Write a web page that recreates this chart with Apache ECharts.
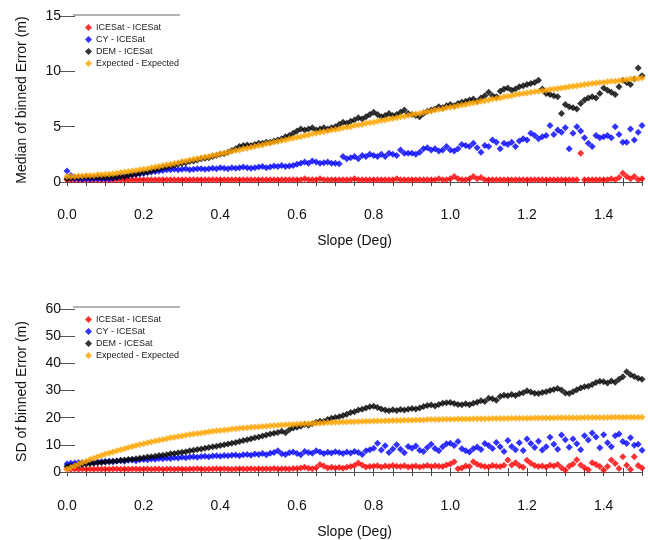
<!DOCTYPE html>
<html>
<head>
<meta charset="utf-8">
<script src="https://cdn.jsdelivr.net/npm/echarts@6/dist/echarts.min.js"></script>
<style>html,body{margin:0;padding:0;background:#fff}#c{width:648px;height:540px}</style>
</head>
<body>
<div id="c"></div>
<script>
var slope = [0.00,0.01,0.02,0.03,0.04,0.05,0.06,0.07,0.08,0.09,
0.10,0.11,0.12,0.13,0.14,0.15,0.16,0.17,0.18,0.19,
0.20,0.21,0.22,0.23,0.24,0.25,0.26,0.27,0.28,0.29,
0.30,0.31,0.32,0.33,0.34,0.35,0.36,0.37,0.38,0.39,
0.40,0.41,0.42,0.43,0.44,0.45,0.46,0.47,0.48,0.49,
0.50,0.51,0.52,0.53,0.54,0.55,0.56,0.57,0.58,0.59,
0.60,0.61,0.62,0.63,0.64,0.65,0.66,0.67,0.68,0.69,
0.70,0.71,0.72,0.73,0.74,0.75,0.76,0.77,0.78,0.79,
0.80,0.81,0.82,0.83,0.84,0.85,0.86,0.87,0.88,0.89,
0.90,0.91,0.92,0.93,0.94,0.95,0.96,0.97,0.98,0.99,
1.00,1.01,1.02,1.03,1.04,1.05,1.06,1.07,1.08,1.09,
1.10,1.11,1.12,1.13,1.14,1.15,1.16,1.17,1.18,1.19,
1.20,1.21,1.22,1.23,1.24,1.25,1.26,1.27,1.28,1.29,
1.30,1.31,1.32,1.33,1.34,1.35,1.36,1.37,1.38,1.39,
1.40,1.41,1.42,1.43,1.44,1.45,1.46,1.47,1.48,1.49,
1.50];

var seriesNames = ['ICESat - ICESat', 'CY - ICESat', 'DEM - ICESat', 'Expected - Expected'];
var xTickLabels = [0, 0.2, 0.4, 0.6, 0.8, 1.0, 1.2, 1.4];
var xMinorTicks = [0,0.05,0.1,0.15,0.2,0.25,0.3,0.35,0.4,0.45,0.5,0.55,0.6,0.65,0.7,0.75,0.8,0.85,0.9,0.95,1.0,1.05,1.1,1.15,1.2,1.25,1.3,1.35,1.4,1.45,1.5];
var topYLabels = [0, 5, 10, 15];
var botYLabels = [0, 10, 20, 30, 40, 50, 60];

// ---- Top panel: Median of binned error (m)
var medIce = [0.2,0.2,0.2,0.2,0.2,0.2,0.2,0.2,0.2,0.2,
0.2,0.2,0.2,0.2,0.2,0.2,0.2,0.2,0.2,0.2,
0.2,0.2,0.2,0.2,0.2,0.2,0.2,0.2,0.2,0.2,
0.2,0.2,0.2,0.2,0.2,0.2,0.2,0.2,0.2,0.2,
0.2,0.2,0.2,0.2,0.2,0.2,0.2,0.2,0.2,0.2,
0.2,0.2,0.2,0.2,0.2,0.2,0.2,0.2,0.2,0.2,
0.2,0.2,0.3,0.2,0.2,0.2,0.3,0.2,0.2,0.2,
0.2,0.2,0.2,0.2,0.2,0.3,0.2,0.2,0.2,0.2,
0.2,0.2,0.2,0.2,0.2,0.2,0.3,0.2,0.2,0.2,
0.2,0.2,0.2,0.2,0.2,0.2,0.2,0.3,0.2,0.2,
0.3,0.5,0.3,0.2,0.2,0.3,0.5,0.3,0.4,0.2,
0.2,0.2,0.2,0.2,0.2,0.2,0.2,0.2,0.2,0.2,
0.2,0.2,0.2,0.2,0.2,0.2,0.2,0.2,0.2,0.2,
0.2,0.2,0.2,0.2,2.6,0.2,0.2,0.2,0.2,0.2,
0.2,0.2,0.3,0.2,0.4,0.8,0.5,0.3,0.5,0.2,
0.3];
var medCY = [1.0,0.6,0.3,0.3,0.25,0.3,0.25,0.3,0.3,0.3,
0.3,0.3,0.35,0.4,0.5,0.55,0.6,0.65,0.7,0.75,
0.8,0.85,0.9,0.95,1.0,1.05,1.1,1.1,1.15,1.1,
1.15,1.2,1.1,1.15,1.2,1.2,1.15,1.2,1.25,1.2,
1.3,1.25,1.2,1.3,1.25,1.3,1.35,1.3,1.25,1.3,
1.35,1.4,1.3,1.35,1.45,1.4,1.5,1.4,1.45,1.5,
1.6,1.7,1.8,1.7,1.9,1.8,1.7,1.75,1.8,1.7,
1.7,1.65,2.3,2.1,2.2,2.3,2.1,2.4,2.3,2.5,
2.4,2.3,2.5,2.3,2.6,2.5,2.4,2.9,2.6,2.6,
2.6,2.5,2.7,3.0,3.1,2.9,3.0,2.8,2.9,3.2,
2.9,2.8,3.0,3.4,3.3,3.2,3.5,3.1,2.7,3.3,
3.2,3.8,3.6,3.0,3.5,3.4,3.6,3.2,3.7,3.9,
3.8,4.4,4.2,3.9,4.1,4.2,5.1,4.3,4.7,4.5,
4.9,3.0,4.4,5.0,4.6,4.0,3.5,3.2,4.2,4.0,
4.1,4.2,4.0,5.0,4.3,3.6,3.6,4.8,3.8,4.5,
5.1];
var medDEM = [0.3,0.35,0.4,0.4,0.4,0.45,0.4,0.4,0.45,0.4,
0.4,0.45,0.4,0.45,0.5,0.5,0.6,0.65,0.7,0.8,
0.85,0.9,1.0,1.1,1.2,1.3,1.35,1.45,1.5,1.6,
1.7,1.75,1.85,1.9,2.0,2.1,2.15,2.2,2.3,2.4,
2.5,2.55,2.7,2.85,3.0,3.2,3.3,3.35,3.3,3.4,
3.5,3.5,3.6,3.6,3.7,3.8,3.9,4.1,4.2,4.4,
4.6,4.8,4.7,4.8,4.9,4.7,4.8,4.9,4.8,4.9,
5.0,5.2,5.4,5.3,5.5,5.6,5.8,5.7,5.9,6.1,
6.3,6.1,5.9,6.0,6.2,6.0,6.1,6.3,6.5,6.2,
6.1,6.0,5.9,6.2,6.4,6.5,6.6,6.8,6.7,6.9,
7.0,6.9,7.1,7.2,7.3,7.4,7.5,7.3,7.6,7.8,
8.1,7.8,7.7,8.2,8.4,8.5,8.3,8.4,8.6,8.7,
8.8,8.9,9.0,9.2,8.4,8.0,7.9,7.8,7.7,6.2,
7.0,6.8,6.7,6.6,7.1,7.4,7.6,7.7,7.6,8.0,
8.5,8.3,8.1,7.9,8.6,9.2,9.0,8.8,9.3,10.3,
9.6];
var medExp = [0.5,0.5,0.5,0.55,0.55,0.6,0.6,0.6,0.65,0.65,
0.7,0.7,0.75,0.8,0.85,0.9,0.95,1.0,1.05,1.1,
1.15,1.2,1.3,1.35,1.4,1.5,1.55,1.6,1.7,1.75,
1.85,1.9,2.0,2.05,2.1,2.2,2.25,2.3,2.4,2.45,
2.55,2.6,2.7,2.75,2.85,2.9,3.0,3.05,3.15,3.2,
3.3,3.35,3.45,3.5,3.6,3.65,3.75,3.8,3.9,3.95,
4.05,4.1,4.2,4.25,4.35,4.4,4.5,4.55,4.6,4.7,
4.75,4.8,4.9,4.95,5.0,5.1,5.15,5.2,5.3,5.35,
5.4,5.5,5.55,5.6,5.7,5.75,5.8,5.9,5.95,6.0,
6.1,6.15,6.2,6.3,6.35,6.4,6.5,6.55,6.6,6.7,
6.75,6.8,6.9,6.95,7.0,7.1,7.15,7.2,7.3,7.35,
7.4,7.5,7.55,7.6,7.7,7.75,7.8,7.9,7.95,8.0,
8.05,8.1,8.15,8.2,8.25,8.3,8.35,8.4,8.45,8.5,
8.55,8.6,8.65,8.7,8.75,8.8,8.85,8.9,8.95,9.0,
9.0,9.05,9.1,9.1,9.15,9.2,9.25,9.3,9.3,9.35,
9.4];

// ---- Bottom panel: SD of binned error (m)
var sdIce = [1.0,1.0,1.1,1.0,1.1,1.0,1.1,1.0,1.1,1.0,
1.1,1.0,1.1,1.1,1.0,1.1,1.0,1.1,1.1,1.0,
1.1,1.1,1.0,1.1,1.1,1.0,1.1,1.1,1.0,1.1,
1.1,1.0,1.1,1.1,1.2,1.1,1.0,1.1,1.1,1.2,
1.1,1.2,1.1,1.0,1.1,1.2,1.1,1.1,1.2,1.1,
1.2,1.1,1.2,1.1,1.3,1.1,1.2,1.2,1.1,1.3,
1.3,1.5,1.8,1.4,1.2,1.6,2.8,2.2,1.5,1.8,
1.5,1.7,1.4,1.8,2.0,2.4,3.3,2.6,1.9,2.0,
2.1,2.3,1.9,2.2,2.0,2.4,2.1,2.0,2.3,1.9,
2.0,2.2,1.9,2.1,2.4,2.0,2.3,2.1,2.0,2.6,
3.0,3.8,1.2,1.5,2.2,2.0,3.8,2.9,2.3,2.0,
1.9,2.4,2.1,2.0,2.5,4.4,2.6,3.4,2.3,1.8,
4.3,3.2,2.4,2.0,2.2,1.9,2.5,2.2,2.8,1.6,
0.7,2.1,3.0,4.5,2.6,1.6,0.8,3.4,2.8,2.0,
0.7,2.0,4.4,3.1,1.3,5.6,2.5,0.9,5.6,2.4,
1.5];
var sdCY = [3.0,3.2,3.3,3.4,3.5,3.4,3.6,3.5,3.7,3.8,
3.9,4.0,3.8,4.1,4.2,4.0,4.3,4.4,4.2,4.5,
4.6,4.5,4.8,4.7,5.0,4.9,5.1,5.0,5.3,5.2,
5.4,5.3,5.5,5.6,5.4,5.7,5.8,5.6,5.9,6.0,
5.8,6.1,6.0,6.2,6.3,6.0,6.4,6.5,6.2,6.6,
6.5,6.8,6.4,6.9,7.2,7.8,6.7,6.5,7.1,7.4,
6.8,6.4,7.6,7.2,6.9,7.8,7.4,6.8,7.3,7.0,
7.5,7.2,6.8,7.4,7.0,7.6,7.2,6.5,7.8,8.2,
8.8,10.6,8.1,9.7,7.2,8.5,10.0,8.4,7.1,9.4,
8.8,9.6,8.0,7.6,9.0,10.2,8.7,7.8,9.3,10.4,
10.6,9.8,11.2,8.6,7.8,7.4,8.6,9.2,8.3,10.5,
9.8,8.7,10.9,9.3,7.6,11.6,9.4,8.2,10.8,7.9,
12.2,10.5,9.0,11.3,8.1,9.3,12.8,10.2,8.4,13.6,
11.9,9.1,12.2,10.4,8.2,13.4,11.8,14.4,12.9,8.9,
13.7,10.8,9.3,13.4,14.0,11.2,10.5,12.6,9.9,10.2,
8.0];
var sdDEM = [2.0,2.2,2.5,2.6,2.8,3.0,3.1,3.2,3.4,3.5,
3.7,3.8,4.0,4.1,4.3,4.4,4.6,4.7,4.9,5.1,
5.3,5.5,5.6,5.8,6.1,6.2,6.4,6.7,6.8,7.1,
7.3,7.5,7.8,8.0,8.3,8.5,8.8,9.0,9.3,9.5,
9.8,10.0,10.3,10.6,10.9,11.2,11.6,11.9,12.3,12.6,
12.9,13.3,13.6,14.0,14.3,14.6,15.0,14.5,15.6,16.2,
16.5,16.9,17.5,17.2,17.8,18.3,18.7,18.6,19.3,19.8,
20.1,20.4,20.8,21.3,21.9,22.2,22.8,23.1,23.6,24.0,
24.2,23.8,23.2,22.8,22.6,22.9,22.7,23.0,22.8,23.1,
23.4,23.2,23.6,24.1,24.5,24.7,24.3,24.9,25.3,25.5,
25.6,25.2,24.9,24.8,25.1,24.8,25.3,25.7,26.2,26.0,
27.2,27.0,26.4,27.8,28.3,28.1,28.5,28.2,28.8,29.2,
29.9,29.5,29.0,28.9,29.3,29.6,30.0,30.4,30.8,30.2,
29.1,28.9,29.6,30.3,30.9,31.4,31.6,32.2,33.0,33.4,
33.2,32.8,33.5,33.1,34.2,35.1,36.9,35.8,35.2,34.5,
34.2];
var sdExp = [1.0,1.7,2.3,2.9,3.5,4.0,4.6,5.1,5.6,6.1,
6.6,7.0,7.4,7.8,8.2,8.6,9.0,9.4,9.8,10.1,
10.4,10.8,11.1,11.4,11.7,12.0,12.3,12.6,12.8,13.1,
13.3,13.5,13.8,14.0,14.2,14.4,14.6,14.8,15.0,15.2,
15.3,15.5,15.6,15.8,15.9,16.1,16.2,16.3,16.5,16.6,
16.7,16.8,16.9,17.0,17.1,17.2,17.3,17.4,17.5,17.5,
17.6,17.7,17.8,17.8,17.9,18.0,18.0,18.1,18.2,18.2,
18.3,18.3,18.4,18.4,18.5,18.5,18.6,18.6,18.7,18.7,
18.8,18.8,18.8,18.9,18.9,19.0,19.0,19.0,19.1,19.1,
19.1,19.2,19.2,19.2,19.3,19.3,19.3,19.3,19.4,19.4,
19.4,19.4,19.5,19.5,19.5,19.5,19.6,19.6,19.6,19.6,
19.6,19.7,19.7,19.7,19.7,19.7,19.8,19.8,19.8,19.8,
19.8,19.8,19.9,19.9,19.9,19.9,19.9,19.9,20.0,20.0,
20.0,20.0,20.0,20.0,20.0,20.1,20.1,20.1,20.1,20.1,
20.1,20.1,20.2,20.2,20.2,20.2,20.2,20.2,20.2,20.2,
20.2];

var colors = ['#ff0000', '#0000ff', '#000000', '#ffa500'];
var FONT = 'Liberation Sans, Arial, Helvetica, sans-serif';

function pairs(ys) { return slope.map(function (x, i) { return [x, ys[i]]; }); }

function xAxes(gi) {
  return [{
    type: 'value', gridIndex: gi, position: 'bottom', min: 0, max: 1.5,
    name: 'Slope (Deg)', nameLocation: 'middle', nameGap: 44,
    nameTextStyle: { fontFamily: FONT, fontSize: 14, color: '#111' },
    axisLine: { show: false },
    axisTick: { show: true, inside: true, length: 4, customValues: xMinorTicks, lineStyle: { color: '#444' } },
    axisLabel: { customValues: xTickLabels, fontFamily: FONT, fontSize: 14, color: '#111', margin: 18,
      formatter: function (v) { return v.toFixed(1); } },
    splitLine: { show: false }
  }, {
    type: 'value', gridIndex: gi, position: 'top', min: 0, max: 1.5,
    axisLine: { show: true, lineStyle: { color: '#555', width: 1 } },
    axisTick: { show: true, inside: true, length: 4, customValues: xMinorTicks, lineStyle: { color: '#444' } },
    axisLabel: { show: false },
    splitLine: { show: false }
  }];
}

function yAxes(gi, min, max, labels, name) {
  return [{
    type: 'value', gridIndex: gi, position: 'left', min: min, max: max,
    name: name, nameLocation: 'middle', nameGap: 38,
    nameTextStyle: { fontFamily: FONT, fontSize: 14, color: '#111' },
    axisLine: { show: false },
    axisTick: { show: true, inside: true, length: 8, customValues: labels, lineStyle: { color: '#555' } },
    axisLabel: { customValues: labels, fontFamily: FONT, fontSize: 14, color: '#111', margin: 6 },
    splitLine: { show: false }
  }, {
    type: 'value', gridIndex: gi, position: 'right', min: min, max: max,
    axisLine: { show: false },
    axisTick: { show: true, inside: true, length: 8, customValues: labels, lineStyle: { color: '#555' } },
    axisLabel: { show: false },
    splitLine: { show: false }
  }];
}

var series = [];
var topData = [medIce, medCY, medDEM, medExp];
var botData = [sdIce, sdCY, sdDEM, sdExp];
seriesNames.forEach(function (n, i) {
  series.push({ name: n, type: 'scatter', xAxisIndex: 0, yAxisIndex: 0, symbol: 'diamond', symbolSize: 7,
    itemStyle: { color: colors[i] }, data: pairs(topData[i]), z: 2 + i });
});
seriesNames.forEach(function (n, i) {
  series.push({ name: n, type: 'scatter', xAxisIndex: 2, yAxisIndex: 2, symbol: 'diamond', symbolSize: 7,
    itemStyle: { color: colors[i] }, data: pairs(botData[i]), z: 2 + i });
});

function legend(top) {
  return {
    data: seriesNames, orient: 'vertical', left: 80, top: top, itemGap: 3,
    icon: 'diamond', itemWidth: 7, itemHeight: 7, selectedMode: false,
    textStyle: { fontFamily: FONT, fontSize: 9, color: '#222', padding: [0, 0, 0, -1] }
  };
}

var chart = echarts.init(document.getElementById('c'), null, { renderer: 'canvas' });
chart.setOption({
  backgroundColor: '#ffffff',
  animation: false,
  grid: [
    { left: 67, right: 6, top: 10, height: 180 },
    { left: 67, right: 6, top: 302, height: 179 }
  ],
  xAxis: xAxes(0).concat(xAxes(1)),
  yAxis: yAxes(0, -0.72, 15.54, topYLabels, 'Median of binned Error (m)')
    .concat(yAxes(1, -3.3, 62.6, botYLabels, 'SD of binned Error (m)')),
  legend: [legend(18), legend(310)],
  graphic: [
    { type: 'line', shape: { x1: 73, y1: 15, x2: 180, y2: 15 }, style: { stroke: '#666', lineWidth: 1 } },
    { type: 'line', shape: { x1: 73, y1: 307, x2: 180, y2: 307 }, style: { stroke: '#666', lineWidth: 1 } }
  ],
  series: series
});
</script>
</body>
</html>
